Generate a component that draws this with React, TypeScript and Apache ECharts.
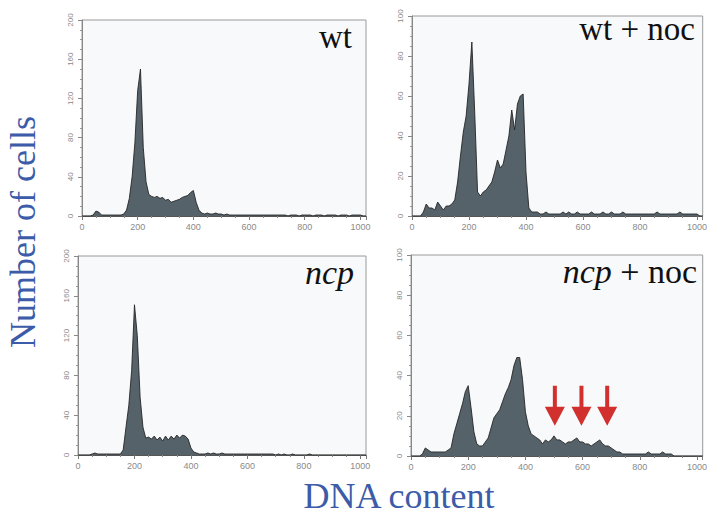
import React, { useEffect, useRef } from "react";
import * as echarts from "echarts";

// DNA-content bins (channel units)
const BINS = [
  0, 10, 20, 30, 40, 50, 60, 70, 80, 90,
  100, 110, 120, 130, 140, 150, 160, 170, 180, 190,
  200, 210, 220, 230, 240, 250, 260, 270, 280, 290,
  300, 310, 320, 330, 340, 350, 360, 370, 380, 390,
  400, 410, 420, 430, 440, 450, 460, 470, 480, 490,
  500, 510, 520, 530, 540, 550, 560, 570, 580, 590,
  600, 610, 620, 630, 640, 650, 660, 670, 680, 690,
  700, 710, 720, 730, 740, 750, 760, 770, 780, 790,
  800, 810, 820, 830, 840, 850, 860, 870, 880, 890,
  900, 910, 920, 930, 940, 950, 960, 970, 980, 990,
  1000, 1010, 1020,
];

const WT = [
  0, 0, 0, 0, 1, 5, 4, 1, 1, 1,
  1, 1, 1, 1, 1, 2, 6, 18, 40, 75,
  128, 150, 70, 35, 22, 20, 19, 20, 18, 19,
  16, 17, 14, 15, 16, 17, 19, 20, 21, 24,
  26, 14, 6, 3, 2, 3, 2, 2, 3, 2,
  2, 1, 2, 1, 1, 1, 1, 1, 1, 1,
  1, 1, 1, 1, 1, 1, 1, 1, 1, 1,
  1, 1, 1, 1, 0, 1, 1, 1, 0, 1,
  1, 1, 1, 0, 1, 1, 1, 0, 1, 1,
  1, 1, 0, 1, 1, 1, 0, 1, 1, 1,
  1, 0, 0,
];

const WT_NOC = [
  0, 0, 0, 0, 2, 6, 4, 4, 3, 7,
  5, 3, 5, 5, 6, 8, 17, 30, 42, 50,
  66, 87, 52, 12, 10, 12, 13, 15, 17, 22,
  28, 24, 26, 33, 40, 53, 43, 56, 60, 61,
  22, 4, 2, 2, 2, 1, 1, 2, 1, 1,
  1, 1, 1, 2, 1, 2, 1, 1, 2, 1,
  1, 1, 1, 2, 1, 1, 1, 2, 1, 1,
  2, 1, 1, 1, 2, 1, 1, 1, 1, 1,
  1, 1, 1, 1, 1, 1, 2, 1, 1, 1,
  1, 1, 1, 1, 2, 1, 1, 1, 1, 1,
  1, 0, 0,
];

const NCP = [
  0, 0, 0, 0, 0, 1, 2, 1, 1, 1,
  1, 1, 1, 1, 1, 1, 5, 28, 50, 85,
  151, 120, 58, 28, 17, 18, 16, 19, 15, 18,
  14, 19, 15, 19, 16, 20, 17, 20, 19, 16,
  7, 3, 2, 1, 1, 1, 2, 1, 2, 1,
  1, 2, 1, 1, 1, 1, 1, 1, 1, 1,
  1, 1, 1, 1, 1, 1, 1, 1, 1, 1,
  0, 1, 0, 1, 0, 0, 1, 0, 0, 0,
  0, 0, 1, 0, 0, 0, 0, 0, 0, 0,
  0, 0, 0, 0, 0, 0, 0, 0, 0, 0,
  0, 0, 0,
];

const NCP_NOC = [
  0, 0, 0, 0, 1, 4, 3, 2, 2, 2,
  2, 2, 2, 3, 4, 11, 16, 21, 26, 32,
  35, 24, 12, 6, 5, 5, 7, 9, 14, 19,
  21, 23, 27, 31, 34, 38, 45, 49, 49, 38,
  22, 15, 11, 10, 9, 8, 6, 8, 7, 8,
  10, 8, 8, 7, 6, 7, 7, 8, 9, 7,
  7, 6, 6, 5, 6, 7, 8, 6, 5, 5,
  4, 3, 2, 2, 1, 1, 1, 1, 1, 1,
  1, 1, 1, 2, 1, 1, 1, 1, 2, 1,
  1, 1, 0, 0, 0, 0, 0, 0, 0, 0,
  0, 0, 0,
];

// arrows in the ncp + noc panel (DNA content, tip height)
const ARROW_X = [503, 596, 686];
const ARROW_TIP = [15, 15, 15];

const X_MAX = 1020;
const X_TICK = 200;
const Y_MAX = [200, 100, 200, 100];
const Y_TICK = [40, 20, 40, 20];

const GRIDS = [
  { left: 82, top: 20, width: 284, height: 196 },
  { left: 412, top: 16, width: 293, height: 200 },
  { left: 78, top: 256, width: 288, height: 199 },
  { left: 411, top: 255, width: 293, height: 201 },
];

const SERIES = [WT, WT_NOC, NCP, NCP_NOC];

const SERIF = "'Liberation Serif', 'Times New Roman', serif";

export default function App() {
  const ref = useRef<HTMLDivElement>(null);

  useEffect(() => {
    if (!ref.current) return;
    const chart = echarts.init(ref.current, undefined, { renderer: "svg" });

    const arrowPath = "path://M8,0 L12,0 L12,21 L20,21 L10,40 L0,21 L8,21 Z";

    const option: any = {
      animation: false,
      backgroundColor: "#ffffff",
      grid: GRIDS.map((g) => ({
        ...g,
        show: true,
        backgroundColor: "#f8f9fa",
        borderColor: "#9a9a9a",
        borderWidth: 1,
      })),
      xAxis: GRIDS.map((_, i) => ({
        type: "value",
        gridIndex: i,
        min: 0,
        max: X_MAX,
        interval: X_TICK,
        splitLine: { show: false },
        axisLine: { show: true, lineStyle: { color: "#555", width: 1 } },
        axisTick: { show: true, length: 4, lineStyle: { color: "#777" } },
        minorTick: { show: true, splitNumber: 4, length: 2, lineStyle: { color: "#888" } },
        axisLabel: {
          color: "#8a8a8a",
          fontSize: 9,
          fontFamily: "'Liberation Sans', Arial, sans-serif",
          margin: 6,
          formatter: (v: number) => (v % X_TICK === 0 ? String(v) : ""),
        },
      })),
      yAxis: GRIDS.map((_, i) => ({
        type: "value",
        gridIndex: i,
        min: 0,
        max: Y_MAX[i],
        interval: Y_TICK[i],
        splitLine: { show: false },
        axisLine: { show: true, lineStyle: { color: "#888", width: 1 } },
        axisTick: { show: true, length: 4, lineStyle: { color: "#888" } },
        minorTick: { show: true, splitNumber: 4, length: 2, lineStyle: { color: "#999" } },
        axisLabel: {
          color: "#8a8a8a",
          fontSize: 8,
          fontFamily: "'Liberation Sans', Arial, sans-serif",
          rotate: 90,
          margin: 8,
        },
      })),
      series: SERIES.map((vals, i) => ({
        type: "line",
        xAxisIndex: i,
        yAxisIndex: i,
        data: BINS.map((x, j) => [x, vals[j]]),
        showSymbol: false,
        symbol: "none",
        lineStyle: { color: "#262626", width: 0.9 },
        areaStyle: { color: "#56626a", opacity: 1 },
        markPoint:
          i === 3
            ? {
                symbol: arrowPath,
                symbolSize: [20, 40],
                symbolOffset: [0, "-50%"],
                itemStyle: { color: "#d2302e" },
                label: { show: false },
                data: ARROW_X.map((x, k) => ({ coord: [x, ARROW_TIP[k]] })),
              }
            : undefined,
      })),
      graphic: [
        {
          type: "text",
          x: 352,
          y: 37,
          style: { text: "wt", fontSize: 33, fontFamily: SERIF, fill: "#111", align: "right", verticalAlign: "middle" },
        },
        {
          type: "text",
          x: 695,
          y: 29,
          style: { text: "wt + noc", fontSize: 33, fontFamily: SERIF, fill: "#111", align: "right", verticalAlign: "middle" },
        },
        {
          type: "text",
          x: 354,
          y: 272,
          style: {
            text: "ncp",
            fontSize: 34,
            fontStyle: "italic",
            fontFamily: SERIF,
            fill: "#111",
            align: "right",
            verticalAlign: "middle",
          },
        },
        {
          type: "text",
          x: 697,
          y: 271,
          style: {
            text: "{i|ncp} + noc",
            fontSize: 34,
            fontFamily: SERIF,
            fill: "#111",
            align: "right",
            verticalAlign: "middle",
            rich: {
              i: { fontSize: 34, fontStyle: "italic", fontFamily: SERIF, fill: "#111" },
            },
          },
        },
        {
          type: "text",
          x: 23,
          y: 232,
          rotation: Math.PI / 2,
          style: {
            text: "Number of cells",
            fontSize: 36,
            fontFamily: SERIF,
            fill: "#3c5ba8",
            align: "center",
            verticalAlign: "middle",
          },
        },
        {
          type: "text",
          x: 399,
          y: 496,
          style: {
            text: "DNA content",
            fontSize: 36,
            fontFamily: SERIF,
            fill: "#3c5ba8",
            align: "center",
            verticalAlign: "middle",
          },
        },
      ],
    };

    chart.setOption(option);
    return () => chart.dispose();
  }, []);

  return (
    <div
      ref={ref}
      style={{ position: "absolute", left: 0, top: 0, width: 710, height: 516 }}
    />
  );
}
